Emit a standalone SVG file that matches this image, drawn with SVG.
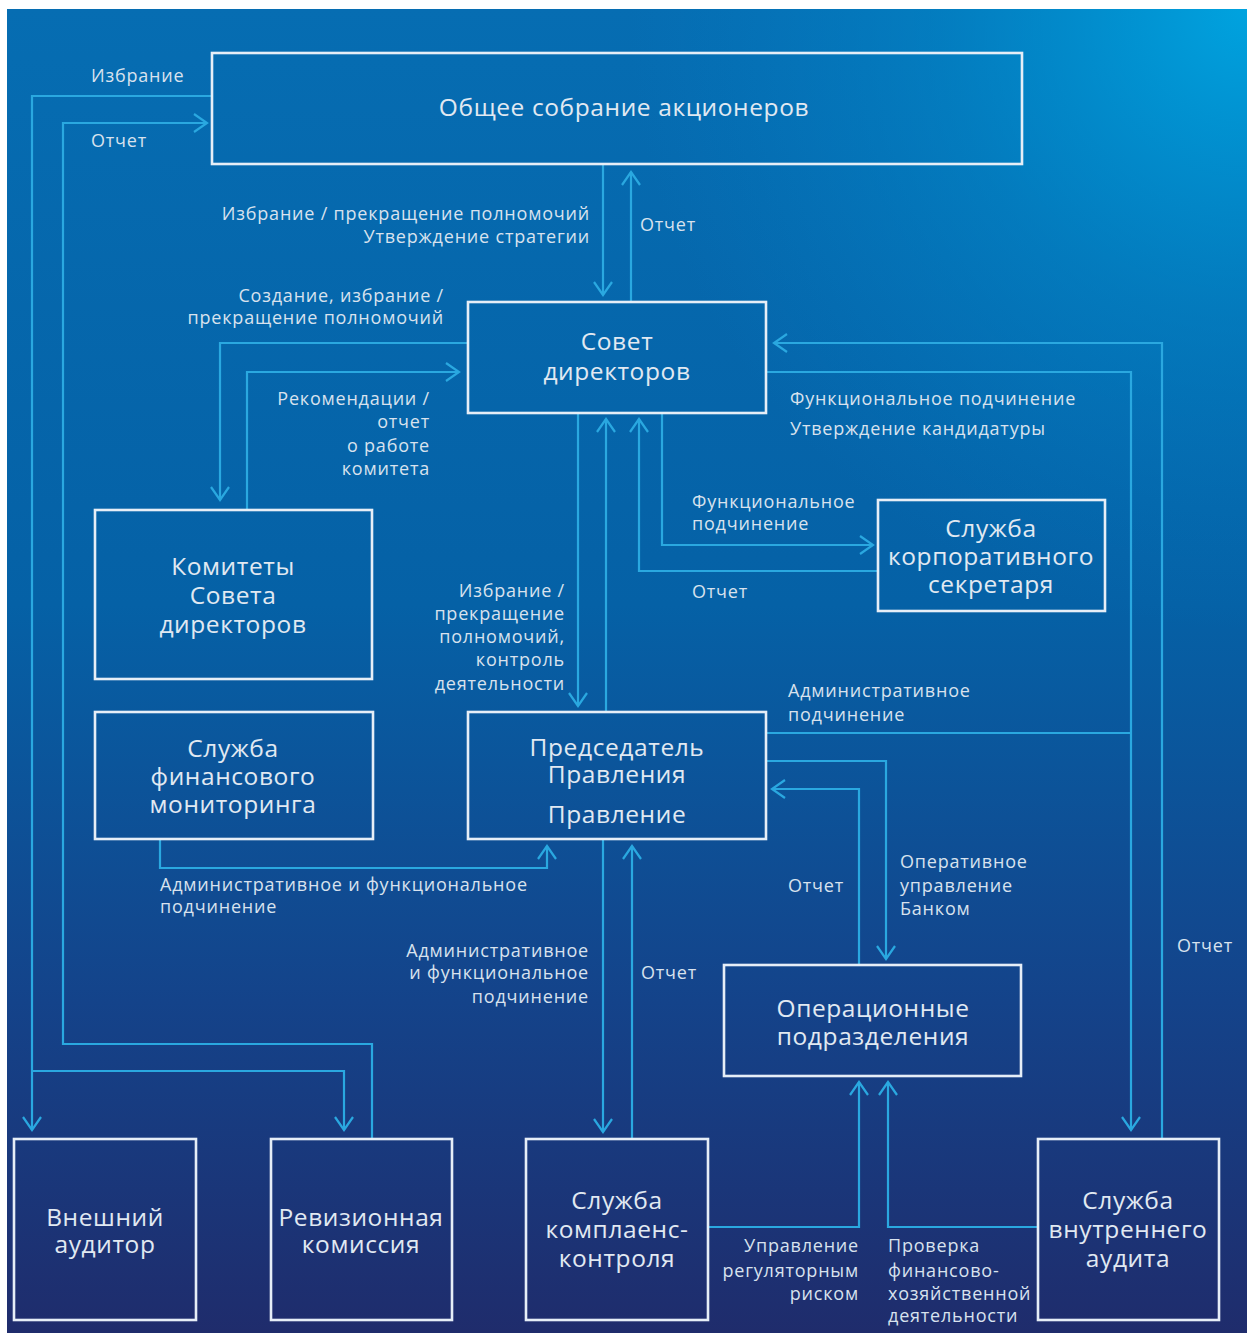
<svg xmlns="http://www.w3.org/2000/svg" width="1247" height="1335" viewBox="0 0 1247 1335">
  <defs>
    <linearGradient id="bgV" x1="0" y1="0" x2="0" y2="1">
      <stop offset="0" stop-color="#066db2"/>
      <stop offset="0.45" stop-color="#0561a6"/>
      <stop offset="0.75" stop-color="#14438a"/>
      <stop offset="1" stop-color="#1f2c6c"/>
    </linearGradient>
    <radialGradient id="glow" cx="1247" cy="9" r="620" gradientUnits="userSpaceOnUse">
      <stop offset="0" stop-color="#00a3df" stop-opacity="1"/>
      <stop offset="0.5" stop-color="#0090d0" stop-opacity="0.45"/>
      <stop offset="1" stop-color="#0080c8" stop-opacity="0"/>
    </radialGradient>
    <marker id="arr" viewBox="-15 -11 17 22" refX="0" refY="0" markerWidth="17" markerHeight="22" markerUnits="userSpaceOnUse" orient="auto">
      <path d="M-13,-9 L0,0 L-13,9" fill="none" stroke="#2aa8e0" stroke-width="2.2"/>
    </marker>
  </defs>
  <style>
    .box { fill: none; stroke: #e6eef7; stroke-width: 2.6; }
    .node text { font-family: "Open Sans", "Noto Sans", sans-serif; font-size: 24.5px; letter-spacing: 0.6px; fill: #e1e9f2; text-anchor: middle; }
    .edge { fill: none; stroke: #2aa8e0; stroke-width: 2.2; }
    .arrow { marker-end: url(#arr); }
    .lbl { font-family: "Open Sans", "Noto Sans", sans-serif; font-size: 18px; letter-spacing: 0.8px; fill: #d8e2ee; }
    .end { text-anchor: end; }
  </style>

  <!-- background panel -->
  <rect x="0" y="0" width="1247" height="1335" fill="#ffffff"/>
  <rect x="7" y="9" width="1240" height="1324" fill="url(#bgV)"/>
  <rect x="7" y="9" width="1240" height="1324" fill="url(#glow)"/>

  <!-- connectors -->
  <g id="connectors">
    <path class="edge arrow" d="M212,96 H32 V1130"/>
    <path class="edge arrow" d="M32,1071 H344 V1130"/>
    <path class="edge arrow" d="M372,1139 V1044 H63 V123 H207"/>
    <path class="edge arrow" d="M603,164 V295"/>
    <path class="edge arrow" d="M631,302 V172"/>
    <path class="edge arrow" d="M468,343 H220 V500"/>
    <path class="edge arrow" d="M247,510 V372 H459"/>
    <path class="edge arrow" d="M578,413 V706"/>
    <path class="edge arrow" d="M606,712 V419"/>
    <path class="edge arrow" d="M878,571 H639 V419"/>
    <path class="edge arrow" d="M662,413 V545 H873"/>
    <path class="edge arrow" d="M1162,1139 V343 H774"/>
    <path class="edge arrow" d="M766,372 H1131 V1130"/>
    <path class="edge" d="M766,733 H1131"/>
    <path class="edge arrow" d="M766,761 H886 V959"/>
    <path class="edge arrow" d="M859,965 V789 H772"/>
    <path class="edge arrow" d="M160,840 V868 H547 V846"/>
    <path class="edge arrow" d="M603,840 V1132"/>
    <path class="edge arrow" d="M632,1139 V846"/>
    <path class="edge arrow" d="M708,1227 H859 V1082"/>
    <path class="edge arrow" d="M1038,1227 H888 V1082"/>

    <!-- connector labels -->
    <text class="lbl" x="91" y="82">Избрание</text>
    <text class="lbl" x="91" y="147">Отчет</text>
    <text class="lbl end" x="590" y="220">Избрание / прекращение полномочий</text>
    <text class="lbl end" x="590" y="243">Утверждение стратегии</text>
    <text class="lbl" x="640" y="231">Отчет</text>
    <text class="lbl end" x="444" y="302">Создание, избрание /</text>
    <text class="lbl end" x="444" y="324">прекращение полномочий</text>
    <text class="lbl end" x="430" y="405">Рекомендации /</text>
    <text class="lbl end" x="430" y="428">отчет</text>
    <text class="lbl end" x="430" y="452">о работе</text>
    <text class="lbl end" x="430" y="475">комитета</text>
    <text class="lbl" x="790" y="405">Функциональное подчинение</text>
    <text class="lbl" x="790" y="435">Утверждение кандидатуры</text>
    <text class="lbl" x="692" y="508">Функциональное</text>
    <text class="lbl" x="692" y="530">подчинение</text>
    <text class="lbl" x="692" y="598">Отчет</text>
    <text class="lbl end" x="565" y="597">Избрание /</text>
    <text class="lbl end" x="565" y="620">прекращение</text>
    <text class="lbl end" x="565" y="643">полномочий,</text>
    <text class="lbl end" x="565" y="666">контроль</text>
    <text class="lbl end" x="565" y="690">деятельности</text>
    <text class="lbl" x="788" y="697">Административное</text>
    <text class="lbl" x="788" y="721">подчинение</text>
    <text class="lbl" x="160" y="891">Административное и функциональное</text>
    <text class="lbl" x="160" y="913">подчинение</text>
    <text class="lbl" x="788" y="892">Отчет</text>
    <text class="lbl" x="900" y="868">Оперативное</text>
    <text class="lbl" x="900" y="892">управление</text>
    <text class="lbl" x="900" y="915">Банком</text>
    <text class="lbl end" x="589" y="957">Административное</text>
    <text class="lbl end" x="589" y="979">и функциональное</text>
    <text class="lbl end" x="589" y="1003">подчинение</text>
    <text class="lbl" x="641" y="979">Отчет</text>
    <text class="lbl" x="1177" y="952">Отчет</text>
    <text class="lbl end" x="859" y="1252">Управление</text>
    <text class="lbl end" x="859" y="1277">регуляторным</text>
    <text class="lbl end" x="859" y="1300">риском</text>
    <text class="lbl" x="888" y="1252">Проверка</text>
    <text class="lbl" x="888" y="1277">финансово-</text>
    <text class="lbl" x="888" y="1300">хозяйственной</text>
    <text class="lbl" x="888" y="1322">деятельности</text>
  </g>

  <!-- nodes -->
  <g id="gms" class="node">
    <rect class="box" x="212" y="53" width="810" height="111"/>
    <text x="624" y="116">Общее собрание акционеров</text>
  </g>
  <g id="board" class="node">
    <rect class="box" x="468" y="302" width="298" height="111"/>
    <text x="617" y="350">Совет</text>
    <text x="617" y="380">директоров</text>
  </g>
  <g id="committees" class="node">
    <rect class="box" x="95" y="510" width="277" height="169"/>
    <text x="233" y="575">Комитеты</text>
    <text x="233" y="604">Совета</text>
    <text x="233" y="633">директоров</text>
  </g>
  <g id="finmon" class="node">
    <rect class="box" x="95" y="712" width="278" height="127"/>
    <text x="233" y="757">Служба</text>
    <text x="233" y="785">финансового</text>
    <text x="233" y="813">мониторинга</text>
  </g>
  <g id="chairman" class="node">
    <rect class="box" x="468" y="712" width="298" height="127"/>
    <text x="617" y="756">Председатель</text>
    <text x="617" y="783">Правления</text>
    <text x="617" y="823">Правление</text>
  </g>
  <g id="corpsec" class="node">
    <rect class="box" x="878" y="500" width="227" height="111"/>
    <text x="991" y="537">Служба</text>
    <text x="991" y="565">корпоративного</text>
    <text x="991" y="593">секретаря</text>
  </g>
  <g id="operations" class="node">
    <rect class="box" x="724" y="965" width="297" height="111"/>
    <text x="873" y="1017">Операционные</text>
    <text x="873" y="1045">подразделения</text>
  </g>
  <g id="extaudit" class="node">
    <rect class="box" x="14" y="1139" width="182" height="181"/>
    <text x="105" y="1226">Внешний</text>
    <text x="105" y="1253">аудитор</text>
  </g>
  <g id="revision" class="node">
    <rect class="box" x="271" y="1139" width="181" height="181"/>
    <text x="361" y="1226">Ревизионная</text>
    <text x="361" y="1253">комиссия</text>
  </g>
  <g id="compliance" class="node">
    <rect class="box" x="526" y="1139" width="182" height="181"/>
    <text x="617" y="1209">Служба</text>
    <text x="617" y="1238">комплаенс-</text>
    <text x="617" y="1267">контроля</text>
  </g>
  <g id="intaudit" class="node">
    <rect class="box" x="1038" y="1139" width="181" height="181"/>
    <text x="1128" y="1209">Служба</text>
    <text x="1128" y="1238">внутреннего</text>
    <text x="1128" y="1267">аудита</text>
  </g>
</svg>
